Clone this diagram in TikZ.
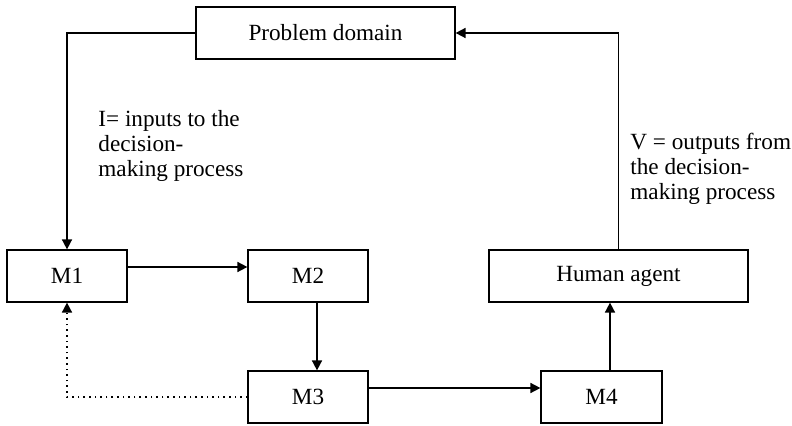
\documentclass[tikz,border=0pt]{standalone}
\usepackage{fontspec}
\setmainfont{Liberation Serif}
\usetikzlibrary{arrows.meta}

\begin{document}
\begin{tikzpicture}[x=0.5pt, y=-0.5pt,
		font=\fontsize{11.6pt}{12.5pt}\selectfont,
		box/.style={draw, line width=0.6pt, inner sep=0pt, minimum height=26pt},
		flow/.style={-{Triangle[length=5pt, width=5pt]}, line width=0.8pt},
		note/.style={anchor=north west, align=left, inner sep=0pt}]
			\useasboundingbox (0, 0) rectangle (792, 426);
			
			\node[box, minimum width=129.5pt] (pd) at (325.5, 33) {Problem domain};
			\node[box, minimum width=60pt] (m1) at (67, 276) {M1};
			\node[box, minimum width=60pt] (m2) at (308, 276) {M2};
			\node[box, minimum width=60pt] (m3) at (308, 397) {M3};
			\node[box, minimum width=60.5pt] (m4) at (601.5, 397) {M4};
			\node[box, minimum width=129.5pt] (ha) at (618.5, 276) {Human agent};
			
			\node[note] (inlabel) at (98, 110) {I= inputs to the\\decision-\\making process};
			\node[note] (outlabel) at (630, 133) {V = outputs from\\the decision-\\making process};
			
			\draw[flow] (pd.west) -| (m1.north);
			\draw[flow] ([yshift=4.5pt]m1.east) -- ([yshift=4.5pt]m2.west);
			\draw[flow] ([xshift=4.5pt]m2.south) -- ([xshift=4.5pt]m3.north);
			\draw[flow] ([yshift=4.5pt]m3.east) -- ([yshift=4.5pt]m4.west);
			\draw[flow] ([xshift=4.25pt]m4.north) -- ([xshift=4.25pt]m4.north |- ha.south);
			\draw[flow] (ha.north) |- (pd.east);
			\draw[flow, dotted] (m3.west) -| (m1.south);
		\end{tikzpicture}
\end{document}
